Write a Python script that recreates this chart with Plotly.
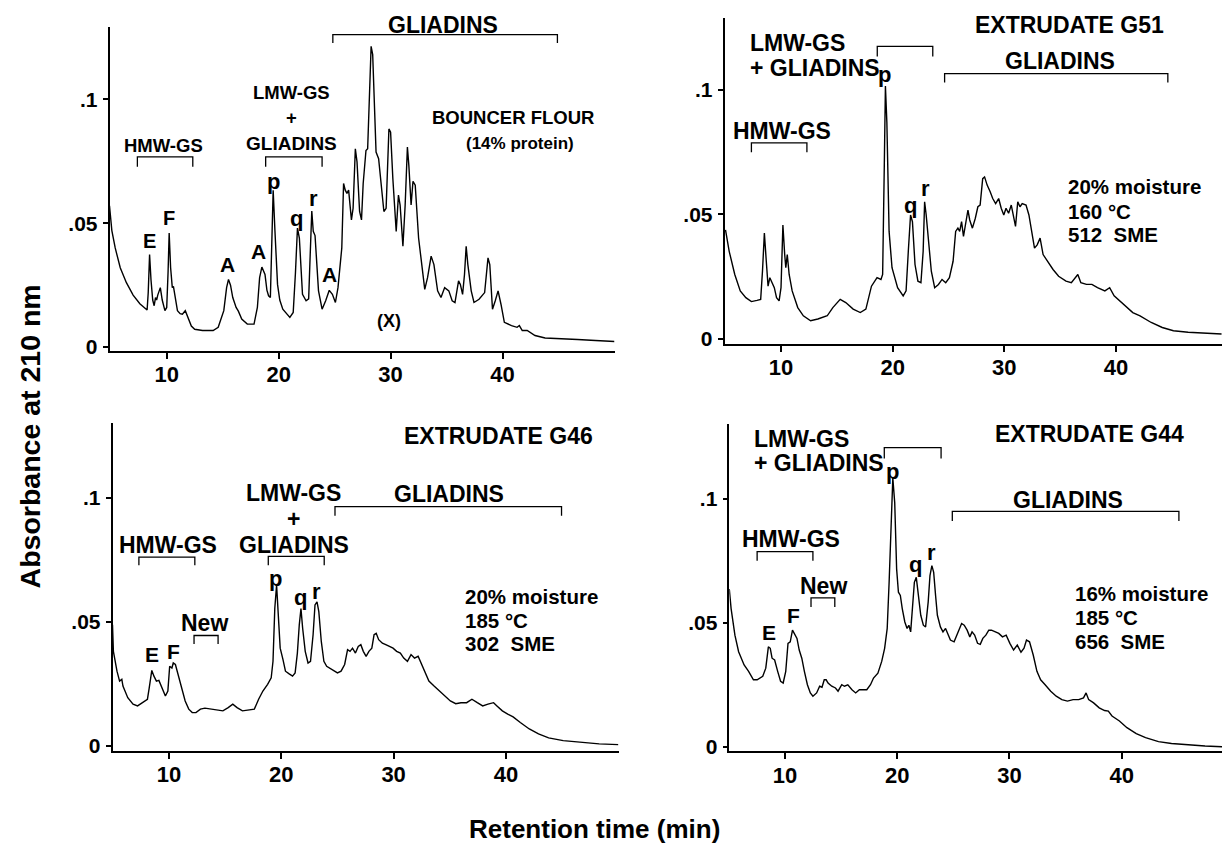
import plotly.graph_objects as go

W, H = 1222, 855
FONT = "Liberation Sans"

# ---------------- data (retention time in min, absorbance at 210 nm) ----------------
bouncer_t = [4.89, 5.1, 5.4, 5.85, 6.4, 7.0, 7.6, 8.05, 8.25, 8.35, 8.47, 8.6, 8.75, 8.88, 9.0, 9.1, 9.2, 9.43, 9.6, 9.84,
             10.0, 10.12, 10.22, 10.35, 10.5, 10.6, 10.75, 10.96, 11.2, 11.4, 11.66, 11.9, 12.2, 12.5, 13.2, 14.15, 14.6,
             15.1, 15.35, 15.52, 15.7, 15.9, 16.2, 16.4, 16.7, 17.2, 17.8, 18.1, 18.3, 18.5, 18.78, 18.95, 19.1, 19.26,
             19.38, 19.51, 19.67, 19.9, 20.1, 20.37, 21.0, 21.3, 21.5, 21.68, 21.85, 22.13, 22.45, 22.68, 22.8, 22.96,
             23.09, 23.25, 23.56, 23.88, 24.2, 24.52, 24.8, 25.07, 25.3, 25.64, 25.8, 25.95, 26.1, 26.25, 26.5, 26.65,
             26.85, 27.0, 27.23, 27.4, 27.55, 27.8, 27.95, 28.07, 28.26, 28.4, 28.55, 28.7, 28.93, 29.15, 29.4, 29.6,
             29.85, 30.0, 30.2, 30.5, 30.7, 30.85, 31.1, 31.3, 31.5, 31.63, 31.83, 32.0, 32.2, 32.5, 32.8, 33.05, 33.3,
             33.62, 33.87, 34.2, 34.5, 34.83, 35.2, 35.5, 35.75, 36.07, 36.23, 36.43, 36.6, 36.75, 36.9, 37.2, 37.45,
             37.9, 38.4, 38.7, 38.86, 39.1, 39.35, 39.6, 39.86, 40.16, 40.8, 41.3, 41.5, 41.76, 42.2, 42.9, 43.8, 45.1,
             46.7, 48.3, 50.0]
bouncer_abs = [0.057, 0.047, 0.040, 0.032, 0.026, 0.021, 0.0175, 0.0155, 0.015, 0.022, 0.0373, 0.027, 0.019, 0.0167,
               0.02, 0.019, 0.021, 0.024, 0.019, 0.0147, 0.016, 0.03, 0.046, 0.032, 0.024, 0.0245, 0.02, 0.0147, 0.0135,
               0.0133, 0.0147, 0.012, 0.0085, 0.0072, 0.0067, 0.0067, 0.008, 0.0147, 0.024, 0.0273, 0.025, 0.02, 0.016,
               0.0145, 0.0113, 0.0093, 0.0093, 0.016, 0.028, 0.0323, 0.0293, 0.023, 0.0207, 0.02, 0.04, 0.0633, 0.0467,
               0.0253, 0.019, 0.0153, 0.012, 0.014, 0.03, 0.048, 0.044, 0.0213, 0.0187, 0.0195, 0.035, 0.0549, 0.0467,
               0.045, 0.0227, 0.0153, 0.0187, 0.0229, 0.0213, 0.018, 0.024, 0.04, 0.066, 0.0633, 0.062, 0.0633, 0.0513,
               0.056, 0.08, 0.0747, 0.0547, 0.0513, 0.066, 0.0793, 0.08, 0.1, 0.1213, 0.118, 0.1, 0.0787, 0.076, 0.0667,
               0.0547, 0.056, 0.088, 0.0867, 0.068, 0.0467, 0.0613, 0.0573, 0.0407, 0.0573, 0.0807, 0.0733, 0.0573,
               0.0669, 0.0653, 0.044, 0.0333, 0.0233, 0.028, 0.0367, 0.0333, 0.0227, 0.02, 0.024, 0.0227, 0.0187, 0.018,
               0.0267, 0.0253, 0.0213, 0.0293, 0.0407, 0.0333, 0.0227, 0.018, 0.0193, 0.022, 0.036, 0.0333, 0.0153,
               0.0187, 0.0227, 0.0173, 0.01, 0.0087, 0.008, 0.0087, 0.0067, 0.0067, 0.0047, 0.0037, 0.0033, 0.0031,
               0.0027, 0.0023]

g51_t = [5.03, 5.36, 5.86, 6.35, 6.85, 7.35, 7.85, 8.18, 8.34, 8.51, 8.68, 8.84, 9.0, 9.2, 9.4, 9.6, 9.83, 10.0, 10.17,
         10.33, 10.43, 10.56, 10.73, 11.0, 11.5, 12.0, 12.65, 13.3, 14.14, 14.64, 15.3, 15.8, 16.46, 17.1, 17.6, 18.1,
         18.6, 18.95, 19.1, 19.25, 19.35, 19.48, 19.68, 19.94, 20.44, 20.94, 21.2, 21.4, 21.6, 21.77, 22.0, 22.26,
         22.53, 22.73, 22.86, 23.0, 23.2, 23.46, 23.76, 24.1, 24.42, 24.75, 25.08, 25.41, 25.64, 25.84, 26.0, 26.17,
         26.34, 26.57, 26.74, 26.9, 27.14, 27.4, 27.63, 27.83, 28.06, 28.23, 28.46, 28.73, 28.96, 29.22, 29.49, 29.72,
         29.95, 30.15, 30.38, 30.62, 30.82, 31.0, 31.2, 31.4, 31.6, 31.94, 32.2, 32.47, 32.7, 32.94, 33.2, 33.47,
         33.86, 34.36, 34.86, 35.52, 36.0, 36.35, 36.58, 36.85, 37.35, 37.84, 38.34, 39.0, 39.43, 39.83, 40.33,
         40.83, 41.5, 42.15, 43.15, 44.14, 45.14, 46.46, 47.8, 49.45]
g51_abs = [0.0438, 0.0352, 0.0259, 0.0193, 0.0166, 0.015, 0.0155, 0.0159, 0.0272, 0.0425, 0.0313, 0.0212, 0.0246,
           0.0226, 0.0206, 0.0166, 0.0153, 0.0206, 0.0458, 0.0339, 0.0286, 0.0339, 0.0259, 0.0193, 0.0126, 0.0093,
           0.0073, 0.008, 0.0093, 0.0126, 0.0159, 0.0146, 0.012, 0.0106, 0.012, 0.0212, 0.0246, 0.0239, 0.0259, 0.0697,
           0.1016, 0.087, 0.0432, 0.0286, 0.0206, 0.0173, 0.0193, 0.0352, 0.0498, 0.0471, 0.0299, 0.0232, 0.0226,
           0.0352, 0.0551, 0.0498, 0.0405, 0.0272, 0.0206, 0.0219, 0.0239, 0.0226, 0.0246, 0.0312, 0.0432, 0.0445,
           0.0432, 0.0471, 0.0412, 0.0485, 0.0518, 0.0478, 0.0445, 0.0485, 0.0531, 0.0538, 0.0644, 0.0651, 0.0618,
           0.0591, 0.0564, 0.0544, 0.0564, 0.0525, 0.0498, 0.0525, 0.0505, 0.0538, 0.0485, 0.0452, 0.0551, 0.0531,
           0.0544, 0.0538, 0.0498, 0.0432, 0.0365, 0.0378, 0.0405, 0.0339, 0.0312, 0.0279, 0.0252, 0.0232, 0.0226,
           0.0246, 0.0259, 0.0226, 0.0219, 0.0219, 0.0206, 0.0193, 0.0206, 0.0173, 0.0153, 0.0133, 0.0106, 0.0093,
           0.0066, 0.0046, 0.0033, 0.0027, 0.0023, 0.002]

g46_t = [4.97, 5.05, 5.37, 5.6, 5.8, 5.9, 6.33, 6.8, 7.2, 7.6, 8.08, 8.24, 8.47, 8.66, 8.88, 9.1, 9.36, 9.68, 9.9, 10.06,
         10.26, 10.38, 10.57, 10.8, 11.12, 11.44, 11.76, 12.07, 12.4, 12.8, 13.2, 13.67, 14.3, 14.8, 15.27, 15.68,
         16.06, 16.54, 17.0, 17.6, 17.98, 18.36, 18.78, 19.1, 19.26, 19.42, 19.58, 19.73, 19.9, 20.15, 20.37, 20.7,
         21.0, 21.23, 21.43, 21.6, 21.75, 21.9, 22.13, 22.38, 22.6, 22.83, 23.0, 23.18, 23.34, 23.56, 23.79, 24.04,
         24.52, 25.0, 25.32, 25.64, 25.9, 26.12, 26.34, 26.6, 26.85, 27.08, 27.3, 27.55, 27.8, 28.06, 28.26, 28.45,
         28.67, 29.0, 29.3, 29.63, 29.95, 30.27, 30.6, 30.9, 31.23, 31.55, 31.86, 32.18, 32.5, 32.8, 33.14, 33.6,
         34.1, 34.58, 35.05, 35.53, 36.0, 36.5, 36.97, 37.45, 37.93, 38.4, 38.9, 39.2, 39.68, 40.16, 40.64, 41.28,
         42.08, 42.9, 43.8, 45.1, 46.7, 48.3, 50.0]
g46_abs = [0.0487, 0.038, 0.03, 0.026, 0.0267, 0.024, 0.0193, 0.0167, 0.016, 0.0173, 0.0187, 0.0233, 0.0303, 0.028,
           0.026, 0.0263, 0.0233, 0.02, 0.022, 0.032, 0.0313, 0.0333, 0.0327, 0.0287, 0.0233, 0.018, 0.0147, 0.0133,
           0.0133, 0.0147, 0.0151, 0.0147, 0.0143, 0.014, 0.0153, 0.0167, 0.0153, 0.014, 0.0143, 0.0147, 0.0187,
           0.022, 0.0247, 0.0273, 0.034, 0.0553, 0.0647, 0.054, 0.0393, 0.0347, 0.03, 0.0289, 0.028, 0.0293, 0.0373,
           0.0487, 0.0553, 0.0473, 0.038, 0.0333, 0.034, 0.0447, 0.0567, 0.058, 0.054, 0.042, 0.034, 0.032, 0.0307,
           0.0293, 0.03, 0.0327, 0.0387, 0.038, 0.0393, 0.0373, 0.04, 0.0407, 0.038, 0.036, 0.038, 0.0393, 0.0447,
           0.0453, 0.0427, 0.0413, 0.0407, 0.04, 0.0393, 0.038, 0.0373, 0.0353, 0.034, 0.0367, 0.0353, 0.036, 0.0327,
           0.03, 0.026, 0.024, 0.022, 0.02, 0.018, 0.0169, 0.0173, 0.0173, 0.0187, 0.0173, 0.016, 0.0167, 0.0173,
           0.016, 0.014, 0.0127, 0.0116, 0.0093, 0.0067, 0.0047, 0.0031, 0.002, 0.0012, 0.0007, 0.0004]

g44_t = [5.04, 5.2, 5.54, 5.87, 6.36, 6.76, 7.19, 7.52, 8.02, 8.29, 8.52, 8.69, 8.85, 9.08, 9.35, 9.61, 9.84, 10.07,
         10.27, 10.47, 10.67, 10.87, 11.07, 11.27, 11.5, 11.73, 12.0, 12.26, 12.49, 12.82, 13.09, 13.3, 13.5, 13.67,
         13.84, 14.17, 14.5, 14.73, 15.06, 15.3, 15.6, 15.97, 16.3, 16.63, 16.96, 17.29, 17.62, 17.89, 18.28, 18.62,
         18.88, 19.11, 19.28, 19.45, 19.61, 19.78, 19.95, 20.11, 20.28, 20.45, 20.68, 20.88, 21.04, 21.2, 21.37,
         21.53, 21.7, 21.87, 22.1, 22.33, 22.53, 22.76, 22.92, 23.09, 23.25, 23.42, 23.58, 23.85, 24.08, 24.31,
         24.51, 24.74, 25.07, 25.3, 25.5, 25.74, 25.97, 26.23, 26.47, 26.67, 26.9, 27.16, 27.4, 27.63, 27.9, 28.16,
         28.4, 28.72, 29.05, 29.38, 29.71, 30.04, 30.37, 30.7, 31.03, 31.3, 31.52, 31.79, 32.12, 32.45, 32.78, 33.18,
         33.68, 34.17, 34.67, 35.17, 35.67, 36.17, 36.6, 36.83, 37.06, 37.5, 38.0, 38.48, 38.81, 39.14, 39.8, 40.47,
         41.3, 42.13, 43.28, 44.44, 45.77, 47.43, 48.94]
g44_abs = [0.0636, 0.0557, 0.045, 0.0383, 0.033, 0.0304, 0.027, 0.027, 0.0284, 0.0317, 0.0403, 0.0397, 0.0357,
           0.035, 0.0304, 0.0264, 0.0257, 0.0304, 0.0417, 0.0423, 0.047, 0.045, 0.0437, 0.039, 0.0357, 0.0304, 0.025,
           0.0217, 0.0204, 0.0217, 0.0244, 0.024, 0.027, 0.027, 0.0257, 0.0244, 0.0237, 0.0224, 0.025, 0.0244, 0.025,
           0.023, 0.0217, 0.023, 0.023, 0.023, 0.025, 0.0277, 0.0297, 0.0344, 0.0397, 0.0477, 0.0663, 0.0916, 0.1083,
           0.0983, 0.0716, 0.0623, 0.061, 0.0557, 0.0503, 0.0477, 0.049, 0.0463, 0.0557, 0.0663, 0.0683, 0.061, 0.053,
           0.049, 0.0483, 0.0583, 0.069, 0.073, 0.0703, 0.061, 0.053, 0.0483, 0.0463, 0.0477, 0.0457, 0.043, 0.0423,
           0.045, 0.0477, 0.0497, 0.049, 0.047, 0.0443, 0.0463, 0.045, 0.0417, 0.0413, 0.0437, 0.045, 0.047, 0.047,
           0.0463, 0.0457, 0.0443, 0.045, 0.0417, 0.039, 0.041, 0.0381, 0.0397, 0.043, 0.0423, 0.037, 0.0304, 0.027,
           0.025, 0.0224, 0.0204, 0.019, 0.0184, 0.019, 0.019, 0.0197, 0.0217, 0.019, 0.0177, 0.0157, 0.0146, 0.0144,
           0.0124, 0.0104, 0.0077, 0.0053, 0.0037, 0.0021, 0.0013, 0.0008, 0.0003, 0.0]

x_tick_vals = [10, 20, 30, 40]
x_tick_text = ["10", "20", "30", "40"]
y_tick_vals = [0, 0.05, 0.1]
y_tick_text = ["0", ".05", ".1"]

# panel layout: pixel boxes (left, right, top, bottom) and axis ranges
panels = [
    dict(t=bouncer_t, a=bouncer_abs, box=(109.5, 614.5, 27, 354), xr=(4.89, 50.0), yr=(-0.0016, 0.1292)),
    dict(t=g51_t, a=g51_abs, box=(724.5, 1222, 18, 347), xr=(4.94, 49.49), yr=(-0.0021, 0.129)),
    dict(t=g46_t, a=g46_abs, box=(112.5, 618.7, 426.7, 757), xr=(4.97, 50.04), yr=(-0.0021, 0.13)),
    dict(t=g44_t, a=g44_abs, box=(729.3, 1222, 428, 757.7), xr=(5.04, 48.94), yr=(-0.0019, 0.1299)),
]

BIG = 23
# text labels per panel: (text, x, y, size, xanchor)
labels = [
    [("GLIADINS", 34.7, 0.1300, BIG, "center"), ("LMW-GS", 21.17, 0.1027, 18.5, "center"),
     ("+", 21.17, 0.0927, 18.5, "center"), ("GLIADINS", 21.17, 0.082, 19, "center"),
     ("HMW-GS", 9.74, 0.0813, 18.5, "center"), ("BOUNCER FLOUR", 40.96, 0.0927, 18.5, "center"),
     ("(14% protein)", 41.6, 0.082, 17, "center"), ("E", 8.47, 0.0427, 20, "center"),
     ("F", 10.16, 0.052, 20, "center"), ("A", 15.43, 0.0333, 21, "center"), ("A", 18.17, 0.0387, 21, "center"),
     ("p", 19.5, 0.0667, 22, "center"), ("q", 21.6, 0.052, 22, "center"), ("r", 23.1, 0.06, 22, "center"),
     ("A", 24.52, 0.0293, 21, "center"), ("(X)", 29.85, 0.0107, 18, "center")],
    [("EXTRUDATE G51", 35.85, 0.126, BIG, "center"), ("LMW-GS", 7.0, 0.1189, BIG, "left"),
     ("+ GLIADINS", 7.0, 0.1089, BIG, "left"), ("p", 19.28, 0.1062, 22, "center"),
     ("GLIADINS", 35.0, 0.1116, BIG, "center"), ("HMW-GS", 10.07, 0.0837, BIG, "center"),
     ("q", 21.6, 0.0538, 22, "center"), ("r", 22.93, 0.0604, 22, "center"),
     ("20% moisture", 35.52, 0.0611, 20.5, "left"), ("160 °C", 35.52, 0.0511, 20.5, "left"),
     ("512  SME", 35.52, 0.0418, 20.5, "left")],
    [("EXTRUDATE G46", 39.37, 0.1247, BIG, "center"), ("GLIADINS", 34.9, 0.1013, BIG, "center"),
     ("LMW-GS", 21.1, 0.102, BIG, "center"), ("+", 21.1, 0.0913, BIG, "center"),
     ("GLIADINS", 21.1, 0.0807, BIG, "center"), ("HMW-GS", 9.94, 0.081, BIG, "center"),
     ("New", 13.13, 0.0493, BIG, "center"), ("E", 8.47, 0.0367, 21, "center"), ("F", 10.38, 0.038, 21, "center"),
     ("p", 19.5, 0.0673, 22, "center"), ("q", 21.68, 0.0596, 22, "center"), ("r", 23.15, 0.062, 22, "center"),
     ("20% moisture", 36.17, 0.06, 20.5, "left"), ("185 °C", 36.17, 0.0503, 20.5, "left"),
     ("302  SME", 36.17, 0.0413, 20.5, "left")],
    [("EXTRUDATE G44", 37.16, 0.1262, BIG, "center"), ("LMW-GS", 7.03, 0.1242, BIG, "left"),
     ("+ GLIADINS", 7.03, 0.1142, BIG, "left"), ("p", 19.54, 0.1109, 22, "center"),
     ("GLIADINS", 35.24, 0.0996, BIG, "center"), ("HMW-GS", 10.5, 0.0836, BIG, "center"),
     ("New", 13.42, 0.065, BIG, "center"), ("E", 8.58, 0.0461, 21, "center"), ("F", 10.73, 0.053, 21, "center"),
     ("q", 21.66, 0.0736, 22, "center"), ("r", 23.02, 0.0783, 22, "center"),
     ("16% moisture", 35.67, 0.0617, 20.5, "left"), ("185 °C", 35.67, 0.0523, 20.5, "left"),
     ("656  SME", 35.67, 0.0423, 20.5, "left")],
]

# brackets per panel: (x_start, x_end, y_top, y_end_of_legs)
brackets = [
    [(24.84, 44.9, 0.126, 0.1227), (18.84, 23.88, 0.0767, 0.0727), (7.38, 12.33, 0.0767, 0.0727)],
    [(18.62, 23.59, 0.1175, 0.1135), (24.65, 44.64, 0.1066, 0.103), (7.35, 12.32, 0.0788, 0.075)],
    [(24.78, 44.95, 0.0964, 0.0927), (18.84, 23.82, 0.0763, 0.0727), (7.32, 12.3, 0.076, 0.0727),
     (12.23, 14.37, 0.0444, 0.041)],
    [(18.85, 23.91, 0.1206, 0.1162), (24.91, 45.1, 0.0949, 0.091), (7.52, 12.49, 0.0787, 0.075),
     (12.32, 14.44, 0.06, 0.0563)],
]

fig = go.Figure()
annotations = []
shapes = []
for i, p in enumerate(panels):
    sfx = "" if i == 0 else str(i + 1)
    xa, ya = "x" + sfx, "y" + sfx
    fig.add_trace(go.Scatter(x=p["t"], y=p["a"], mode="lines", xaxis=xa, yaxis=ya,
                             line=dict(color="black", width=1.4), showlegend=False, hoverinfo="skip"))
    l, r, t, b = p["box"]
    d_bot, d_top = 1 - b / H, 1 - t / H
    common = dict(showline=True, linecolor="black", linewidth=1.5, ticks="outside",
                  tickcolor="black", tickwidth=1.5, showgrid=False, zeroline=False)
    fig.update_layout(**{
        ("xaxis" + sfx): dict(domain=[l / W, r / W], range=list(p["xr"]), anchor=ya, ticklen=6,
                              tickvals=x_tick_vals, ticktext=x_tick_text, ticklabelstandoff=-3,
                              tickfont=dict(family=FONT, size=22, color="black", weight="bold"), **common),
        ("yaxis" + sfx): dict(domain=[d_bot, d_top], range=list(p["yr"]), anchor=xa, ticklen=5,
                              tickvals=y_tick_vals, ticktext=y_tick_text, ticklabelstandoff=1,
                              tickfont=dict(family=FONT, size=21, color="black", weight="bold"), **common),
    })
    y0, y1 = p["yr"]
    for (txt, x, y, size, anc) in labels[i]:
        # labels above the axis range are placed in paper units so they stay visible
        if y > y1:
            yy, yref = d_bot + (y - y0) / (y1 - y0) * (d_top - d_bot), "paper"
        else:
            yy, yref = y, ya
        annotations.append(dict(text=txt, x=x, y=yy, xref=xa, yref=yref, showarrow=False, xanchor=anc,
                                yanchor="middle", font=dict(family=FONT, size=size, color="black", weight="bold")))
    for (x0, x1, ytop, yleg) in brackets[i]:
        shapes.append(dict(type="path", xref=xa, yref=ya,
                           path=f"M {x0},{yleg} L {x0},{ytop} L {x1},{ytop} L {x1},{yleg}",
                           line=dict(color="black", width=1.3)))

annotations.append(dict(text="Absorbance at 210 nm", x=30 / W, y=1 - 440 / H, xref="paper", yref="paper",
                        showarrow=False, textangle=-90, xanchor="center", yanchor="middle",
                        font=dict(family=FONT, size=28.5, color="black", weight="bold")))
annotations.append(dict(text="Retention time (min)", x=594 / W, y=1 - 836 / H, xref="paper", yref="paper",
                        showarrow=False, xanchor="center", yanchor="middle",
                        font=dict(family=FONT, size=26, color="black", weight="bold")))

fig.update_layout(width=W, height=H, margin=dict(l=0, r=0, t=0, b=0), paper_bgcolor="white",
                  plot_bgcolor="white", annotations=annotations, shapes=shapes)

# remove the default 8px page margin so the figure sits at the window origin; hide the mode bar
fig.write_html("out.html", config={"displayModeBar": False},
               post_script="document.body.style.margin='0px';")
